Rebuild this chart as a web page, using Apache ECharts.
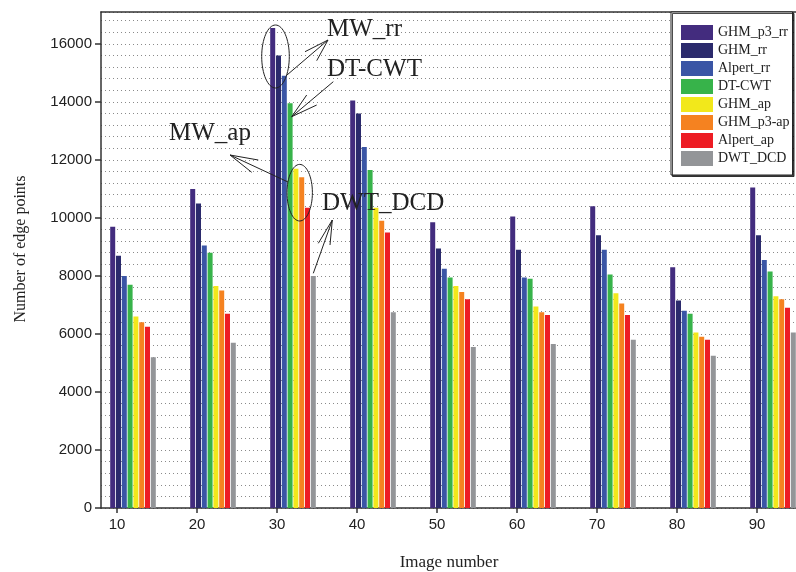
<!DOCTYPE html>
<html>
<head>
<meta charset="utf-8">
<script src="https://cdn.jsdelivr.net/npm/echarts@6/dist/echarts.min.js"></script>
<style>
  html, body { margin: 0; padding: 0; background: #fff; }
  #main { width: 796px; height: 572px; }
</style>
</head>
<body>
<div id="main"></div>
<script>
// image numbers on the x axis
var imageNumbers = [10, 20, 30, 40, 50, 60, 70, 80, 90];
var yTicks = [0, 2000, 4000, 6000, 8000, 10000, 12000, 14000, 16000];

var seriesNames = ['GHM_p3_rr', 'GHM_rr', 'Alpert_rr', 'DT-CWT', 'GHM_ap', 'GHM_p3-ap', 'Alpert_ap', 'DWT_DCD'];
var colors = ['#432c7e', '#2b2a6c', '#3a55a5', '#37b34a', '#f2e81b', '#f58220', '#ed1c24', '#939598'];

var ghmP3rr  = [9700, 11000, 16550, 14050, 9850, 10050, 10400, 8300, 11050];
var ghmRr    = [8700, 10500, 15600, 13600, 8950, 8900, 9400, 7150, 9400];
var alpertRr = [8000, 9050, 14900, 12450, 8250, 7950, 8900, 6800, 8550];
var dtCwt    = [7700, 8800, 13950, 11650, 7950, 7900, 8050, 6700, 8150];
var ghmAp    = [6600, 7650, 11700, 10350, 7650, 6950, 7400, 6050, 7300];
var ghmP3ap  = [6400, 7500, 11400, 9900, 7450, 6750, 7050, 5900, 7200];
var alpertAp = [6250, 6700, 10350, 9500, 7200, 6650, 6650, 5800, 6900];
var dwtDcd   = [5200, 5700, 8000, 6750, 5550, 5650, 5800, 5250, 6050];

var allValues = [ghmP3rr, ghmRr, alpertRr, dtCwt, ghmAp, ghmP3ap, alpertAp, dwtDcd];

var chart = echarts.init(document.getElementById('main'), null, { renderer: 'canvas' });

var dotted = { color: '#8a8a8a', type: [1, 3], width: 1 };
var serif = 'Liberation Serif, Times New Roman, serif';
var sans = 'Liberation Sans, Arial, sans-serif';

var series = seriesNames.map(function (name, i) {
  return {
    name: name,
    type: 'bar',
    xAxisIndex: 1,
    yAxisIndex: 0,
    barWidth: 5,
    barGap: '16%',
    itemStyle: { color: colors[i] },
    data: imageNumbers.map(function (x, j) { return [x, allValues[i][j]]; })
  };
});

function arrow(points, wings) {
  return [
    { type: 'polyline', shape: { points: points }, style: { stroke: '#222', lineWidth: 1, fill: null }, z: 100 },
    { type: 'polyline', shape: { points: wings }, style: { stroke: '#222', lineWidth: 1, fill: null }, z: 100 }
  ];
}

function label(text, x, y) {
  return {
    type: 'text', left: x, top: y, z: 100,
    style: { text: text, fill: '#222', font: '25px ' + serif }
  };
}

// callouts
var graphics = [
  label('MW_rr', 327, 17),
  label('DT-CWT', 327, 57),
  label('MW_ap', 169, 121),
  label('DWT_DCD', 322, 191),
  { type: 'ellipse', shape: { cx: 275.5, cy: 56.5, rx: 13.8, ry: 31.5 }, style: { stroke: '#222', fill: null, lineWidth: 1 }, z: 100 },
  { type: 'ellipse', shape: { cx: 299.7, cy: 192.7, rx: 12.7, ry: 28.3 }, style: { stroke: '#222', fill: null, lineWidth: 1 }, z: 100 }
]
  .concat(arrow([[287, 75], [328, 40]], [[305, 51.7], [328, 40], [316.7, 60.7]]))
  .concat(arrow([[333.3, 81.7], [291.7, 116.7]], [[306.7, 95], [291.7, 116.7], [316.7, 105]]))
  .concat(arrow([[288, 182], [230, 155]], [[258.3, 160], [230, 155], [251.7, 172.3]]))
  .concat(arrow([[313.3, 273.3], [332.3, 220]], [[318.3, 243.3], [332.3, 220], [330, 245]]));

var option = {
  backgroundColor: '#fff',
  animation: false,
  color: colors,
  grid: { left: 101, right: -1, top: 12, bottom: 64, containLabel: false, outerBoundsMode: 'none' },
  legend: {
    orient: 'vertical',
    left: 671,
    top: 12,
    padding: [13, 3, 9, 10],
    itemWidth: 32,
    itemHeight: 15,
    itemGap: 3,
    icon: 'rect',
    backgroundColor: '#fff',
    borderColor: '#222',
    borderWidth: 1,
    shadowColor: 'rgba(0,0,0,0.7)',
    shadowOffsetX: 1.5,
    shadowOffsetY: 1.5,
    shadowBlur: 0,
    textStyle: { fontFamily: serif, fontSize: 14, color: '#222' },
    data: seriesNames
  },
  xAxis: [
    {
      type: 'value',
      min: 8,
      max: 95,
      position: 'bottom',
      name: 'Image number',
      nameLocation: 'middle',
      nameGap: 46,
      nameTextStyle: { fontFamily: serif, fontSize: 17, color: '#222' },
      axisLine: { show: true, lineStyle: { color: '#333', width: 1.5 } },
      axisTick: { show: true, inside: false, length: 5, customValues: imageNumbers, lineStyle: { color: '#333', width: 1.5 } },
      axisLabel: { customValues: imageNumbers, margin: 9, fontFamily: sans, fontSize: 15, color: '#222' },
      splitLine: { show: false }
    },
    {
      type: 'value',
      min: 6,
      max: 93,
      position: 'top',
      axisLine: { show: true, onZero: false, lineStyle: { color: '#333', width: 1.5 } },
      axisTick: { show: false },
      axisLabel: { show: false },
      splitLine: { show: false }
    }
  ],
  yAxis: [
    {
      type: 'value',
      min: 0,
      max: 17100,
      position: 'left',
      name: 'Number of edge points',
      nameLocation: 'middle',
      nameRotate: 90,
      nameGap: 72,
      nameTextStyle: { fontFamily: serif, fontSize: 16, color: '#222', padding: [0, 0, 0, 22] },
      axisLine: { show: true, lineStyle: { color: '#333', width: 1.5 } },
      axisTick: { show: true, inside: false, length: 6, customValues: yTicks, lineStyle: { color: '#333', width: 1.5 } },
      axisLabel: {
        customValues: yTicks, margin: 9, fontFamily: sans, fontSize: 15, color: '#222',
        formatter: function (v) { return String(v); }
      },
      splitLine: { show: false }
    },
    {
      type: 'value',
      min: 0,
      max: 17100,
      interval: 400,
      position: 'right',
      axisLine: { show: false },
      axisTick: { show: false },
      axisLabel: { show: false },
      splitLine: { show: true, lineStyle: dotted }
    }
  ],
  graphic: graphics,
  series: series
};

chart.setOption(option);
</script>
</body>
</html>
